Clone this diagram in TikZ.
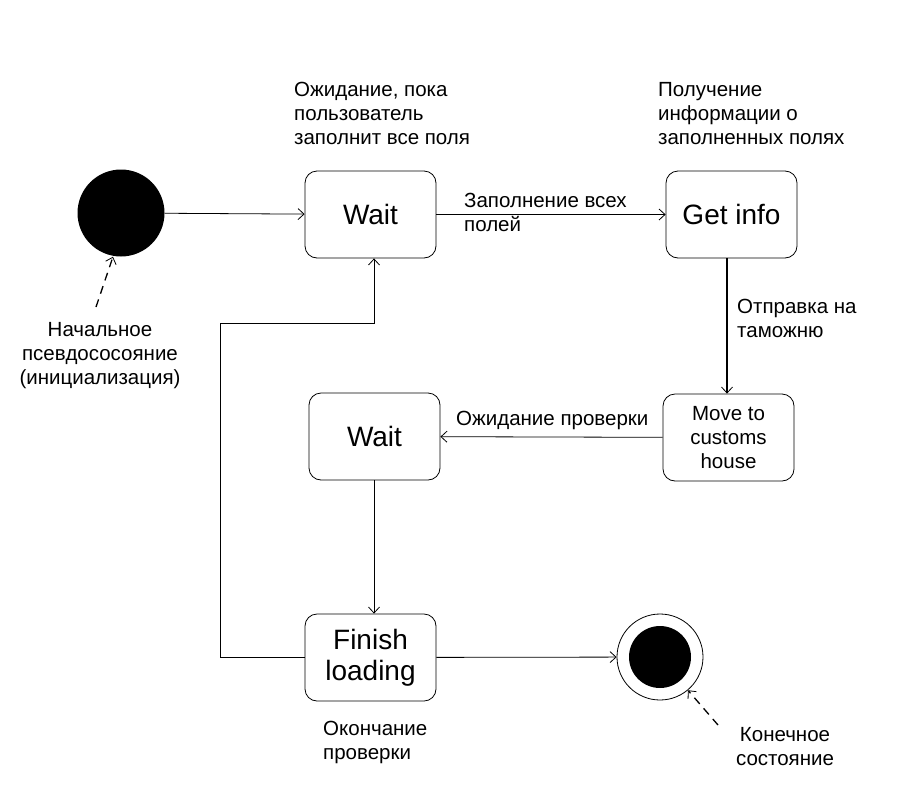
\documentclass[tikz,border=0pt]{standalone}
\usepackage{fontspec}
\setmainfont{Liberation Sans}
\usetikzlibrary{arrows.meta}
\begin{document}
\begin{tikzpicture}[x=1pt,y=-1pt,
  state/.style={draw,line width=0.8pt,rounded corners=12pt,minimum width=131pt,minimum height=87pt,inner sep=0pt,align=center,font=\fontsize{28}{31}\selectfont},
  smallstate/.style={state,font=\fontsize{20.5}{24}\selectfont},
  lbl/.style={font=\fontsize{20.5}{24}\selectfont,inner sep=0pt},
  arr/.style={draw,line width=0.8pt,-{Straight Barb[length=6pt,width=11pt,line width=0.8pt]}},
  darr/.style={arr,dash pattern=on 8pt off 6pt,line width=1.3pt}]
\useasboundingbox (0,0) rectangle (912,798);
\node[circle,fill=black,minimum size=87pt,inner sep=0pt] (init) at (121,213) {};
\node[state] (wait1) at (370.5,214.5) {Wait};
\node[state] (info) at (731.5,214.5) {Get info};
\node[smallstate] (move) at (728.5,437.5) {Move to\\customs\\house};
\node[state] (wait2) at (374.5,436.5) {Wait};
\node[state] (finish) at (370.5,657.5) {Finish\\loading};
\node[circle,draw,line width=0.8pt,minimum size=86pt,inner sep=0pt] (final) at (660,657) {};
\node[circle,fill=black,minimum size=62pt,inner sep=0pt] at (final) {};

\coordinate (dinit) at (96,307);
\coordinate (dfin) at (718,725);
\coordinate (c1) at (220,657.5);
\coordinate (c2) at (220,323);
\coordinate (c3) at (374,323);

\draw[arr] (init) -- (wait1);
\draw[arr] (wait1) -- (info);
\draw[arr,line width=1.8pt] (info.south -| 727,0) -- (move.north -| 727,0);
\draw[arr] (move) -- (wait2);
\draw[arr] (wait2.south -| 374,0) -- (finish.north -| 374,0);
\draw[arr] (finish.west) -- (c1) -- (c2) -- (c3) -- (wait1.south -| 374,0);
\draw[arr] (finish) -- (final);
\draw[darr] (dinit) -- (init.south -| 113,0);
\draw[darr] (dfin) -- (final.-50);

\node[lbl,anchor=north west,align=left] (l1) at (464,193) {Заполнение всех\\полей};
\node[lbl,anchor=north west,align=left] (l2) at (737,299) {Отправка на\\таможню};
\node[lbl,anchor=south west,align=left] (l3) at (456,430) {Ожидание проверки};
\node[lbl,anchor=north,align=center] (n1) at (100,322) {Начальное\\псевдососояние\\(инициализация)};
\node[lbl,anchor=north west,align=left] (n2) at (294,82) {Ожидание, пока\\пользователь\\заполнит все поля};
\node[lbl,anchor=north west,align=left] (n3) at (658,82) {Получение\\информации о\\заполненных полях};
\node[lbl,anchor=north west,align=left] (n4) at (323,721) {Окончание\\проверки};
\node[lbl,anchor=north,align=center] (n5) at (785,727) {Конечное\\состояние};
\end{tikzpicture}
\end{document}
